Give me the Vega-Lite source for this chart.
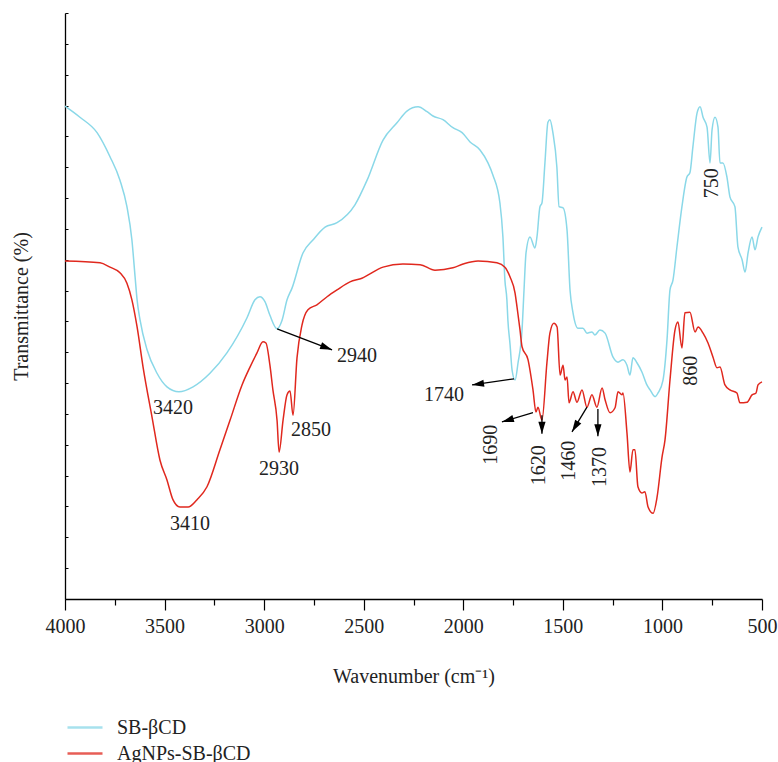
{
  "$schema": "https://vega.github.io/schema/vega-lite/v6.json",
  "width": 697,
  "height": 586,
  "autosize": {"type": "none"},
  "padding": {"left": 65, "top": 13, "right": 16, "bottom": 163},
  "background": "white",
  "config": {
    "font": "Liberation Serif",
    "view": {"stroke": null},
    "axis": {"labelFont": "Liberation Serif", "titleFont": "Liberation Serif"},
    "text": {"font": "Liberation Serif"},
    "legend": {
      "orient": "none",
      "legendX": 8.5,
      "legendY": 703,
      "title": null,
      "labelFont": "Liberation Serif",
      "labelFontSize": 20,
      "labelColor": "#222",
      "symbolType": "M-1.75,0L1.75,0",
      "symbolSize": 400,
      "symbolStrokeWidth": 2.5,
      "symbolOpacity": 0.75,
      "rowPadding": 4,
      "labelOffset": 20.5
    }
  },
  "datasets": {
    "spectra": [
      {"wavenumber": 4000, "transmittance": 79.9, "sample": "SB-βCD"},
      {"wavenumber": 3925, "transmittance": 78.1, "sample": "SB-βCD"},
      {"wavenumber": 3839, "transmittance": 75.6, "sample": "SB-βCD"},
      {"wavenumber": 3774, "transmittance": 71.7, "sample": "SB-βCD"},
      {"wavenumber": 3724, "transmittance": 67.9, "sample": "SB-βCD"},
      {"wavenumber": 3689, "transmittance": 63.6, "sample": "SB-βCD"},
      {"wavenumber": 3664, "transmittance": 58.2, "sample": "SB-βCD"},
      {"wavenumber": 3648, "transmittance": 52.2, "sample": "SB-βCD"},
      {"wavenumber": 3638, "transmittance": 48.5, "sample": "SB-βCD"},
      {"wavenumber": 3623, "transmittance": 45.2, "sample": "SB-βCD"},
      {"wavenumber": 3588, "transmittance": 40.4, "sample": "SB-βCD"},
      {"wavenumber": 3538, "transmittance": 36.6, "sample": "SB-βCD"},
      {"wavenumber": 3488, "transmittance": 34.4, "sample": "SB-βCD"},
      {"wavenumber": 3428, "transmittance": 33.6, "sample": "SB-βCD"},
      {"wavenumber": 3357, "transmittance": 34.4, "sample": "SB-βCD"},
      {"wavenumber": 3272, "transmittance": 36.6, "sample": "SB-βCD"},
      {"wavenumber": 3187, "transmittance": 39.9, "sample": "SB-βCD"},
      {"wavenumber": 3086, "transmittance": 45.6, "sample": "SB-βCD"},
      {"wavenumber": 3046, "transmittance": 48.5, "sample": "SB-βCD"},
      {"wavenumber": 3021, "transmittance": 49.0, "sample": "SB-βCD"},
      {"wavenumber": 2996, "transmittance": 48.2, "sample": "SB-βCD"},
      {"wavenumber": 2971, "transmittance": 46.0, "sample": "SB-βCD"},
      {"wavenumber": 2935, "transmittance": 43.8, "sample": "SB-βCD"},
      {"wavenumber": 2910, "transmittance": 45.2, "sample": "SB-βCD"},
      {"wavenumber": 2885, "transmittance": 48.5, "sample": "SB-βCD"},
      {"wavenumber": 2860, "transmittance": 50.4, "sample": "SB-βCD"},
      {"wavenumber": 2805, "transmittance": 56.1, "sample": "SB-βCD"},
      {"wavenumber": 2755, "transmittance": 58.2, "sample": "SB-βCD"},
      {"wavenumber": 2694, "transmittance": 60.3, "sample": "SB-βCD"},
      {"wavenumber": 2634, "transmittance": 61.0, "sample": "SB-βCD"},
      {"wavenumber": 2544, "transmittance": 63.9, "sample": "SB-βCD"},
      {"wavenumber": 2483, "transmittance": 67.9, "sample": "SB-βCD"},
      {"wavenumber": 2403, "transmittance": 74.4, "sample": "SB-βCD"},
      {"wavenumber": 2333, "transmittance": 77.2, "sample": "SB-βCD"},
      {"wavenumber": 2283, "transmittance": 79.1, "sample": "SB-βCD"},
      {"wavenumber": 2227, "transmittance": 79.8, "sample": "SB-βCD"},
      {"wavenumber": 2182, "transmittance": 79.0, "sample": "SB-βCD"},
      {"wavenumber": 2152, "transmittance": 78.3, "sample": "SB-βCD"},
      {"wavenumber": 2102, "transmittance": 77.7, "sample": "SB-βCD"},
      {"wavenumber": 2052, "transmittance": 76.4, "sample": "SB-βCD"},
      {"wavenumber": 2006, "transmittance": 75.6, "sample": "SB-βCD"},
      {"wavenumber": 1966, "transmittance": 74.1, "sample": "SB-βCD"},
      {"wavenumber": 1916, "transmittance": 72.8, "sample": "SB-βCD"},
      {"wavenumber": 1876, "transmittance": 70.7, "sample": "SB-βCD"},
      {"wavenumber": 1851, "transmittance": 68.7, "sample": "SB-βCD"},
      {"wavenumber": 1816, "transmittance": 64.2, "sample": "SB-βCD"},
      {"wavenumber": 1801, "transmittance": 58.7, "sample": "SB-βCD"},
      {"wavenumber": 1791, "transmittance": 51.7, "sample": "SB-βCD"},
      {"wavenumber": 1781, "transmittance": 48.5, "sample": "SB-βCD"},
      {"wavenumber": 1776, "transmittance": 45.2, "sample": "SB-βCD"},
      {"wavenumber": 1765, "transmittance": 41.2, "sample": "SB-βCD"},
      {"wavenumber": 1755, "transmittance": 37.1, "sample": "SB-βCD"},
      {"wavenumber": 1740, "transmittance": 35.5, "sample": "SB-βCD"},
      {"wavenumber": 1725, "transmittance": 38.3, "sample": "SB-βCD"},
      {"wavenumber": 1705, "transmittance": 43.6, "sample": "SB-βCD"},
      {"wavenumber": 1695, "transmittance": 50.1, "sample": "SB-βCD"},
      {"wavenumber": 1685, "transmittance": 56.1, "sample": "SB-βCD"},
      {"wavenumber": 1665, "transmittance": 58.7, "sample": "SB-βCD"},
      {"wavenumber": 1640, "transmittance": 56.9, "sample": "SB-βCD"},
      {"wavenumber": 1630, "transmittance": 58.7, "sample": "SB-βCD"},
      {"wavenumber": 1615, "transmittance": 63.6, "sample": "SB-βCD"},
      {"wavenumber": 1605, "transmittance": 64.2, "sample": "SB-βCD"},
      {"wavenumber": 1590, "transmittance": 70.7, "sample": "SB-βCD"},
      {"wavenumber": 1575, "transmittance": 77.3, "sample": "SB-βCD"},
      {"wavenumber": 1565, "transmittance": 77.7, "sample": "SB-βCD"},
      {"wavenumber": 1550, "transmittance": 75.6, "sample": "SB-βCD"},
      {"wavenumber": 1530, "transmittance": 70.0, "sample": "SB-βCD"},
      {"wavenumber": 1519, "transmittance": 63.6, "sample": "SB-βCD"},
      {"wavenumber": 1499, "transmittance": 63.4, "sample": "SB-βCD"},
      {"wavenumber": 1479, "transmittance": 59.8, "sample": "SB-βCD"},
      {"wavenumber": 1464, "transmittance": 50.1, "sample": "SB-βCD"},
      {"wavenumber": 1449, "transmittance": 46.4, "sample": "SB-βCD"},
      {"wavenumber": 1424, "transmittance": 43.9, "sample": "SB-βCD"},
      {"wavenumber": 1399, "transmittance": 43.9, "sample": "SB-βCD"},
      {"wavenumber": 1379, "transmittance": 43.1, "sample": "SB-βCD"},
      {"wavenumber": 1354, "transmittance": 43.3, "sample": "SB-βCD"},
      {"wavenumber": 1339, "transmittance": 42.8, "sample": "SB-βCD"},
      {"wavenumber": 1314, "transmittance": 43.6, "sample": "SB-βCD"},
      {"wavenumber": 1288, "transmittance": 43.1, "sample": "SB-βCD"},
      {"wavenumber": 1248, "transmittance": 39.2, "sample": "SB-βCD"},
      {"wavenumber": 1223, "transmittance": 38.4, "sample": "SB-βCD"},
      {"wavenumber": 1198, "transmittance": 38.8, "sample": "SB-βCD"},
      {"wavenumber": 1178, "transmittance": 37.9, "sample": "SB-βCD"},
      {"wavenumber": 1163, "transmittance": 36.3, "sample": "SB-βCD"},
      {"wavenumber": 1148, "transmittance": 39.1, "sample": "SB-βCD"},
      {"wavenumber": 1128, "transmittance": 38.3, "sample": "SB-βCD"},
      {"wavenumber": 1103, "transmittance": 36.8, "sample": "SB-βCD"},
      {"wavenumber": 1078, "transmittance": 34.7, "sample": "SB-βCD"},
      {"wavenumber": 1062, "transmittance": 33.9, "sample": "SB-βCD"},
      {"wavenumber": 1037, "transmittance": 32.8, "sample": "SB-βCD"},
      {"wavenumber": 1022, "transmittance": 33.4, "sample": "SB-βCD"},
      {"wavenumber": 997, "transmittance": 35.5, "sample": "SB-βCD"},
      {"wavenumber": 977, "transmittance": 42.0, "sample": "SB-βCD"},
      {"wavenumber": 962, "transmittance": 50.1, "sample": "SB-βCD"},
      {"wavenumber": 947, "transmittance": 51.7, "sample": "SB-βCD"},
      {"wavenumber": 927, "transmittance": 57.1, "sample": "SB-βCD"},
      {"wavenumber": 902, "transmittance": 63.6, "sample": "SB-βCD"},
      {"wavenumber": 877, "transmittance": 68.4, "sample": "SB-βCD"},
      {"wavenumber": 862, "transmittance": 69.1, "sample": "SB-βCD"},
      {"wavenumber": 847, "transmittance": 73.3, "sample": "SB-βCD"},
      {"wavenumber": 826, "transmittance": 78.8, "sample": "SB-βCD"},
      {"wavenumber": 811, "transmittance": 79.8, "sample": "SB-βCD"},
      {"wavenumber": 796, "transmittance": 78.1, "sample": "SB-βCD"},
      {"wavenumber": 776, "transmittance": 76.5, "sample": "SB-βCD"},
      {"wavenumber": 761, "transmittance": 70.7, "sample": "SB-βCD"},
      {"wavenumber": 751, "transmittance": 76.0, "sample": "SB-βCD"},
      {"wavenumber": 736, "transmittance": 78.1, "sample": "SB-βCD"},
      {"wavenumber": 721, "transmittance": 76.5, "sample": "SB-βCD"},
      {"wavenumber": 711, "transmittance": 70.7, "sample": "SB-βCD"},
      {"wavenumber": 696, "transmittance": 70.7, "sample": "SB-βCD"},
      {"wavenumber": 676, "transmittance": 68.4, "sample": "SB-βCD"},
      {"wavenumber": 661, "transmittance": 65.2, "sample": "SB-βCD"},
      {"wavenumber": 636, "transmittance": 63.6, "sample": "SB-βCD"},
      {"wavenumber": 621, "transmittance": 57.1, "sample": "SB-βCD"},
      {"wavenumber": 600, "transmittance": 55.0, "sample": "SB-βCD"},
      {"wavenumber": 585, "transmittance": 53.0, "sample": "SB-βCD"},
      {"wavenumber": 570, "transmittance": 56.1, "sample": "SB-βCD"},
      {"wavenumber": 550, "transmittance": 58.7, "sample": "SB-βCD"},
      {"wavenumber": 535, "transmittance": 56.6, "sample": "SB-βCD"},
      {"wavenumber": 520, "transmittance": 58.7, "sample": "SB-βCD"},
      {"wavenumber": 500, "transmittance": 60.3, "sample": "SB-βCD"},
      {"wavenumber": 4000, "transmittance": 54.8, "sample": "AgNPs-SB-βCD"},
      {"wavenumber": 3824, "transmittance": 54.5, "sample": "AgNPs-SB-βCD"},
      {"wavenumber": 3774, "transmittance": 53.8, "sample": "AgNPs-SB-βCD"},
      {"wavenumber": 3724, "transmittance": 52.9, "sample": "AgNPs-SB-βCD"},
      {"wavenumber": 3689, "transmittance": 51.2, "sample": "AgNPs-SB-βCD"},
      {"wavenumber": 3664, "transmittance": 48.5, "sample": "AgNPs-SB-βCD"},
      {"wavenumber": 3638, "transmittance": 44.1, "sample": "AgNPs-SB-βCD"},
      {"wavenumber": 3608, "transmittance": 37.6, "sample": "AgNPs-SB-βCD"},
      {"wavenumber": 3563, "transmittance": 29.5, "sample": "AgNPs-SB-βCD"},
      {"wavenumber": 3523, "transmittance": 22.5, "sample": "AgNPs-SB-βCD"},
      {"wavenumber": 3488, "transmittance": 19.3, "sample": "AgNPs-SB-βCD"},
      {"wavenumber": 3458, "transmittance": 16.1, "sample": "AgNPs-SB-βCD"},
      {"wavenumber": 3423, "transmittance": 14.9, "sample": "AgNPs-SB-βCD"},
      {"wavenumber": 3382, "transmittance": 14.9, "sample": "AgNPs-SB-βCD"},
      {"wavenumber": 3337, "transmittance": 16.1, "sample": "AgNPs-SB-βCD"},
      {"wavenumber": 3287, "transmittance": 18.2, "sample": "AgNPs-SB-βCD"},
      {"wavenumber": 3222, "transmittance": 24.2, "sample": "AgNPs-SB-βCD"},
      {"wavenumber": 3171, "transmittance": 29.0, "sample": "AgNPs-SB-βCD"},
      {"wavenumber": 3111, "transmittance": 34.7, "sample": "AgNPs-SB-βCD"},
      {"wavenumber": 3071, "transmittance": 37.6, "sample": "AgNPs-SB-βCD"},
      {"wavenumber": 3036, "transmittance": 39.9, "sample": "AgNPs-SB-βCD"},
      {"wavenumber": 3006, "transmittance": 41.7, "sample": "AgNPs-SB-βCD"},
      {"wavenumber": 2991, "transmittance": 41.5, "sample": "AgNPs-SB-βCD"},
      {"wavenumber": 2971, "transmittance": 37.9, "sample": "AgNPs-SB-βCD"},
      {"wavenumber": 2956, "transmittance": 33.9, "sample": "AgNPs-SB-βCD"},
      {"wavenumber": 2935, "transmittance": 28.9, "sample": "AgNPs-SB-βCD"},
      {"wavenumber": 2925, "transmittance": 23.8, "sample": "AgNPs-SB-βCD"},
      {"wavenumber": 2905, "transmittance": 29.0, "sample": "AgNPs-SB-βCD"},
      {"wavenumber": 2885, "transmittance": 33.1, "sample": "AgNPs-SB-βCD"},
      {"wavenumber": 2870, "transmittance": 33.7, "sample": "AgNPs-SB-βCD"},
      {"wavenumber": 2855, "transmittance": 29.8, "sample": "AgNPs-SB-βCD"},
      {"wavenumber": 2835, "transmittance": 39.1, "sample": "AgNPs-SB-βCD"},
      {"wavenumber": 2810, "transmittance": 44.4, "sample": "AgNPs-SB-βCD"},
      {"wavenumber": 2780, "transmittance": 46.9, "sample": "AgNPs-SB-βCD"},
      {"wavenumber": 2735, "transmittance": 47.7, "sample": "AgNPs-SB-βCD"},
      {"wavenumber": 2684, "transmittance": 49.0, "sample": "AgNPs-SB-βCD"},
      {"wavenumber": 2634, "transmittance": 50.1, "sample": "AgNPs-SB-βCD"},
      {"wavenumber": 2569, "transmittance": 51.4, "sample": "AgNPs-SB-βCD"},
      {"wavenumber": 2509, "transmittance": 52.0, "sample": "AgNPs-SB-βCD"},
      {"wavenumber": 2403, "transmittance": 53.8, "sample": "AgNPs-SB-βCD"},
      {"wavenumber": 2303, "transmittance": 54.3, "sample": "AgNPs-SB-βCD"},
      {"wavenumber": 2217, "transmittance": 54.2, "sample": "AgNPs-SB-βCD"},
      {"wavenumber": 2142, "transmittance": 53.3, "sample": "AgNPs-SB-βCD"},
      {"wavenumber": 2052, "transmittance": 53.7, "sample": "AgNPs-SB-βCD"},
      {"wavenumber": 2001, "transmittance": 54.3, "sample": "AgNPs-SB-βCD"},
      {"wavenumber": 1926, "transmittance": 54.8, "sample": "AgNPs-SB-βCD"},
      {"wavenumber": 1831, "transmittance": 54.5, "sample": "AgNPs-SB-βCD"},
      {"wavenumber": 1791, "transmittance": 53.8, "sample": "AgNPs-SB-βCD"},
      {"wavenumber": 1765, "transmittance": 52.2, "sample": "AgNPs-SB-βCD"},
      {"wavenumber": 1740, "transmittance": 49.6, "sample": "AgNPs-SB-βCD"},
      {"wavenumber": 1730, "transmittance": 47.3, "sample": "AgNPs-SB-βCD"},
      {"wavenumber": 1715, "transmittance": 43.6, "sample": "AgNPs-SB-βCD"},
      {"wavenumber": 1705, "transmittance": 40.9, "sample": "AgNPs-SB-βCD"},
      {"wavenumber": 1675, "transmittance": 38.8, "sample": "AgNPs-SB-βCD"},
      {"wavenumber": 1650, "transmittance": 33.9, "sample": "AgNPs-SB-βCD"},
      {"wavenumber": 1635, "transmittance": 30.3, "sample": "AgNPs-SB-βCD"},
      {"wavenumber": 1625, "transmittance": 31.1, "sample": "AgNPs-SB-βCD"},
      {"wavenumber": 1605, "transmittance": 29.0, "sample": "AgNPs-SB-βCD"},
      {"wavenumber": 1580, "transmittance": 38.3, "sample": "AgNPs-SB-βCD"},
      {"wavenumber": 1565, "transmittance": 43.1, "sample": "AgNPs-SB-βCD"},
      {"wavenumber": 1545, "transmittance": 44.7, "sample": "AgNPs-SB-βCD"},
      {"wavenumber": 1529, "transmittance": 44.1, "sample": "AgNPs-SB-βCD"},
      {"wavenumber": 1514, "transmittance": 36.3, "sample": "AgNPs-SB-βCD"},
      {"wavenumber": 1499, "transmittance": 37.9, "sample": "AgNPs-SB-βCD"},
      {"wavenumber": 1489, "transmittance": 35.5, "sample": "AgNPs-SB-βCD"},
      {"wavenumber": 1479, "transmittance": 36.0, "sample": "AgNPs-SB-βCD"},
      {"wavenumber": 1469, "transmittance": 31.8, "sample": "AgNPs-SB-βCD"},
      {"wavenumber": 1449, "transmittance": 33.6, "sample": "AgNPs-SB-βCD"},
      {"wavenumber": 1429, "transmittance": 31.9, "sample": "AgNPs-SB-βCD"},
      {"wavenumber": 1404, "transmittance": 33.9, "sample": "AgNPs-SB-βCD"},
      {"wavenumber": 1379, "transmittance": 31.1, "sample": "AgNPs-SB-βCD"},
      {"wavenumber": 1354, "transmittance": 33.1, "sample": "AgNPs-SB-βCD"},
      {"wavenumber": 1329, "transmittance": 31.1, "sample": "AgNPs-SB-βCD"},
      {"wavenumber": 1303, "transmittance": 34.2, "sample": "AgNPs-SB-βCD"},
      {"wavenumber": 1288, "transmittance": 32.3, "sample": "AgNPs-SB-βCD"},
      {"wavenumber": 1263, "transmittance": 30.2, "sample": "AgNPs-SB-βCD"},
      {"wavenumber": 1238, "transmittance": 31.0, "sample": "AgNPs-SB-βCD"},
      {"wavenumber": 1223, "transmittance": 33.6, "sample": "AgNPs-SB-βCD"},
      {"wavenumber": 1203, "transmittance": 33.1, "sample": "AgNPs-SB-βCD"},
      {"wavenumber": 1198, "transmittance": 33.4, "sample": "AgNPs-SB-βCD"},
      {"wavenumber": 1178, "transmittance": 26.9, "sample": "AgNPs-SB-βCD"},
      {"wavenumber": 1163, "transmittance": 20.6, "sample": "AgNPs-SB-βCD"},
      {"wavenumber": 1148, "transmittance": 24.2, "sample": "AgNPs-SB-βCD"},
      {"wavenumber": 1138, "transmittance": 24.2, "sample": "AgNPs-SB-βCD"},
      {"wavenumber": 1123, "transmittance": 18.2, "sample": "AgNPs-SB-βCD"},
      {"wavenumber": 1103, "transmittance": 17.2, "sample": "AgNPs-SB-βCD"},
      {"wavenumber": 1088, "transmittance": 17.4, "sample": "AgNPs-SB-βCD"},
      {"wavenumber": 1072, "transmittance": 14.9, "sample": "AgNPs-SB-βCD"},
      {"wavenumber": 1047, "transmittance": 13.9, "sample": "AgNPs-SB-βCD"},
      {"wavenumber": 1027, "transmittance": 16.5, "sample": "AgNPs-SB-βCD"},
      {"wavenumber": 1002, "transmittance": 23.0, "sample": "AgNPs-SB-βCD"},
      {"wavenumber": 987, "transmittance": 25.8, "sample": "AgNPs-SB-βCD"},
      {"wavenumber": 962, "transmittance": 35.5, "sample": "AgNPs-SB-βCD"},
      {"wavenumber": 937, "transmittance": 43.6, "sample": "AgNPs-SB-βCD"},
      {"wavenumber": 922, "transmittance": 44.9, "sample": "AgNPs-SB-βCD"},
      {"wavenumber": 902, "transmittance": 40.7, "sample": "AgNPs-SB-βCD"},
      {"wavenumber": 887, "transmittance": 46.4, "sample": "AgNPs-SB-βCD"},
      {"wavenumber": 862, "transmittance": 46.5, "sample": "AgNPs-SB-βCD"},
      {"wavenumber": 836, "transmittance": 43.3, "sample": "AgNPs-SB-βCD"},
      {"wavenumber": 821, "transmittance": 44.1, "sample": "AgNPs-SB-βCD"},
      {"wavenumber": 796, "transmittance": 43.1, "sample": "AgNPs-SB-βCD"},
      {"wavenumber": 771, "transmittance": 41.5, "sample": "AgNPs-SB-βCD"},
      {"wavenumber": 746, "transmittance": 39.2, "sample": "AgNPs-SB-βCD"},
      {"wavenumber": 726, "transmittance": 37.5, "sample": "AgNPs-SB-βCD"},
      {"wavenumber": 711, "transmittance": 37.6, "sample": "AgNPs-SB-βCD"},
      {"wavenumber": 686, "transmittance": 34.7, "sample": "AgNPs-SB-βCD"},
      {"wavenumber": 661, "transmittance": 33.9, "sample": "AgNPs-SB-βCD"},
      {"wavenumber": 626, "transmittance": 33.4, "sample": "AgNPs-SB-βCD"},
      {"wavenumber": 611, "transmittance": 31.8, "sample": "AgNPs-SB-βCD"},
      {"wavenumber": 575, "transmittance": 31.9, "sample": "AgNPs-SB-βCD"},
      {"wavenumber": 550, "transmittance": 33.1, "sample": "AgNPs-SB-βCD"},
      {"wavenumber": 530, "transmittance": 33.4, "sample": "AgNPs-SB-βCD"},
      {"wavenumber": 520, "transmittance": 34.7, "sample": "AgNPs-SB-βCD"},
      {"wavenumber": 500, "transmittance": 35.2, "sample": "AgNPs-SB-βCD"}
    ],
    "labelsFlat": [
      {"label": "3420", "wavenumber": 3458, "transmittance": 31.0},
      {"label": "3410", "wavenumber": 3372, "transmittance": 12.2},
      {"label": "2930", "wavenumber": 2925, "transmittance": 21.1},
      {"label": "2850", "wavenumber": 2765, "transmittance": 27.4},
      {"label": "2940", "wavenumber": 2534, "transmittance": 39.4},
      {"label": "1740", "wavenumber": 2097, "transmittance": 33.1}
    ],
    "labelsUpright": [
      {"label": "1690", "wavenumber": 1861, "transmittance": 25.0},
      {"label": "1620", "wavenumber": 1620, "transmittance": 21.7},
      {"label": "1460", "wavenumber": 1469, "transmittance": 22.4},
      {"label": "1370", "wavenumber": 1314, "transmittance": 21.4},
      {"label": "860", "wavenumber": 857, "transmittance": 37.0},
      {"label": "750", "wavenumber": 751, "transmittance": 67.4}
    ],
    "arrows": [
      {"label": "2940", "tailWavenumber": 2935, "tailTransmittance": 43.8, "wavenumber": 2659, "transmittance": 40.4},
      {"label": "1740", "tailWavenumber": 1745, "tailTransmittance": 35.7, "wavenumber": 1956, "transmittance": 34.7},
      {"label": "1690", "tailWavenumber": 1650, "tailTransmittance": 30.2, "wavenumber": 1806, "transmittance": 28.7},
      {"label": "1620", "tailWavenumber": 1605, "tailTransmittance": 29.8, "wavenumber": 1605, "transmittance": 26.8},
      {"label": "1460", "tailWavenumber": 1379, "tailTransmittance": 31.1, "wavenumber": 1454, "transmittance": 27.1},
      {"label": "1370", "tailWavenumber": 1324, "tailTransmittance": 30.8, "wavenumber": 1324, "transmittance": 26.4}
    ]
  },
  "encoding": {
    "x": {
      "field": "wavenumber",
      "type": "quantitative",
      "scale": {"domain": [500, 4000], "reverse": true, "nice": false, "zero": false},
      "axis": {
        "title": "Wavenumber (cm⁻¹)",
        "titleFont": "Liberation Serif",
        "titleFontSize": 20,
        "titleFontWeight": "normal",
        "titleColor": "#222",
        "titlePadding": 30,
        "values": [4000, 3750, 3500, 3250, 3000, 2750, 2500, 2250, 2000, 1750, 1500, 1250, 1000, 750, 500],
        "format": "d",
        "labelExpr": "datum.value % 500 === 0 ? datum.label : ''",
        "labelFont": "Liberation Serif",
        "labelFontSize": 20,
        "labelColor": "#222",
        "labelPadding": 6,
        "labelFlush": false,
        "labelOverlap": false,
        "tickSize": {"condition": {"test": "datum.value % 500 === 0", "value": 11}, "value": 6},
        "tickColor": "black",
        "tickWidth": 1.2,
        "domainColor": "black",
        "domainWidth": 1.3,
        "grid": false
      }
    },
    "y": {
      "field": "transmittance",
      "type": "quantitative",
      "scale": {"domain": [0, 95], "nice": false, "zero": false},
      "axis": {
        "title": "Transmittance (%)",
        "titleFont": "Liberation Serif",
        "titleFontSize": 20,
        "titleFontWeight": "normal",
        "titleColor": "#222",
        "titlePadding": 33,
        "values": [0, 5, 10, 15, 20, 25, 30, 35, 40, 45, 50, 55, 60, 65, 70, 75, 80, 85, 90, 95],
        "labels": false,
        "tickSize": -3,
        "tickColor": "black",
        "domainColor": "black",
        "domainWidth": 1.3,
        "grid": false
      }
    }
  },
  "layer": [
    {
      "data": {"name": "spectra"},
      "mark": {"type": "line", "strokeWidth": 1.5, "interpolate": "monotone"},
      "encoding": {
        "color": {
          "field": "sample",
          "type": "nominal",
          "scale": {"domain": ["SB-βCD", "AgNPs-SB-βCD"], "range": ["#8ad8e8", "#e0281e"]},
          "sort": null
        }
      }
    },
    {
      "data": {"name": "arrows"},
      "mark": {"type": "rule", "color": "black", "strokeWidth": 1.3},
      "encoding": {
        "x2": {"field": "tailWavenumber"},
        "y2": {"field": "tailTransmittance"}
      }
    },
    {
      "data": {"name": "arrows"},
      "transform": [
        {"calculate": "atan2((datum.wavenumber - datum.tailWavenumber) * -0.19914, (datum.transmittance - datum.tailTransmittance) * 6.1684) * 180 / PI", "as": "heading"}
      ],
      "mark": {"type": "point", "shape": "M0,0L0.3,1L-0.3,1Z", "filled": true, "color": "black", "opacity": 1, "size": 576},
      "encoding": {
        "angle": {"field": "heading", "type": "quantitative", "scale": null}
      }
    },
    {
      "data": {"name": "labelsFlat"},
      "mark": {"type": "text", "font": "Liberation Serif", "fontSize": 20, "color": "#222", "align": "center", "baseline": "middle"},
      "encoding": {"text": {"field": "label"}}
    },
    {
      "data": {"name": "labelsUpright"},
      "mark": {"type": "text", "font": "Liberation Serif", "fontSize": 20, "color": "#222", "align": "center", "baseline": "middle", "angle": 270},
      "encoding": {"text": {"field": "label"}}
    }
  ]
}
